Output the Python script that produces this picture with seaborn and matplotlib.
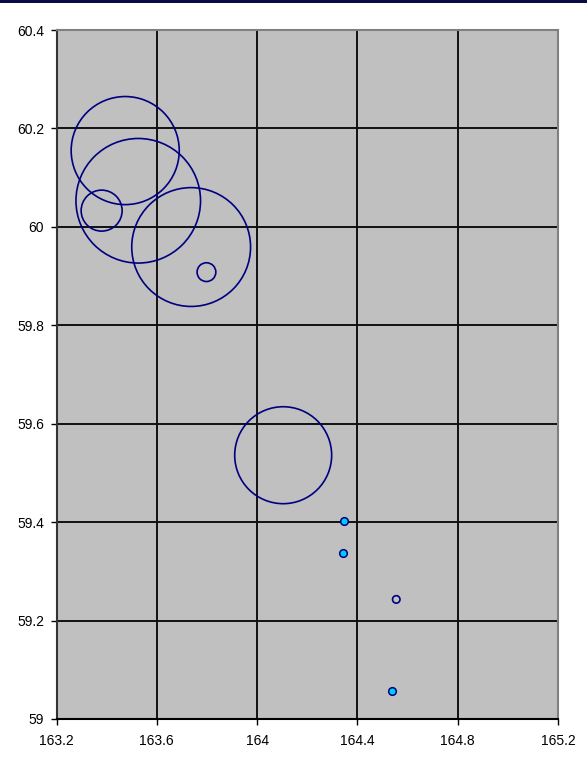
import matplotlib
matplotlib.use("Agg")
import matplotlib.pyplot as plt
from matplotlib.patches import Rectangle
import seaborn as sns
import pandas as pd

# Hollow bubble series (longitude, latitude, bubble value)
bubble_lon = [163.474, 163.526, 163.380, 163.737, 163.798, 164.104, 164.555]
bubble_lat = [60.155, 60.053, 60.033, 59.959, 59.908, 59.536, 59.243]
bubble_val = [29.2, 38.8, 4.2, 35.3, 0.88, 23.5, 0.14]

# Filled (cyan) point series
point_lon = [164.348, 164.341, 164.538]
point_lat = [59.402, 59.337, 59.056]

x_ticks = [163.2, 163.6, 164.0, 164.4, 164.8, 165.2]
x_labels = ["163.2", "163.6", "164", "164.4", "164.8", "165.2"]
y_ticks = [59.0, 59.2, 59.4, 59.6, 59.8, 60.0, 60.2, 60.4]
y_labels = ["59", "59.2", "59.4", "59.6", "59.8", "60", "60.2", "60.4"]

sns.set_style("white")
plt.rcParams["font.family"] = ["Liberation Sans", "DejaVu Sans"]

fig = plt.figure(figsize=(5.87, 7.64), dpi=100)
ax = fig.add_axes([56.5 / 587, 1 - 719 / 764, (558 - 56.5) / 587, (719 - 30) / 764])
ax.set_facecolor("#C0C0C0")

bubbles = pd.DataFrame({"lon": bubble_lon, "lat": bubble_lat, "val": bubble_val})
points = pd.DataFrame({"lon": point_lon, "lat": point_lat})

vmax = 40.0
smax = 207.36 * vmax
sns.scatterplot(data=bubbles, x="lon", y="lat", size="val", sizes=(0, smax),
                size_norm=(0, vmax), color="#000080", facecolor="none",
                edgecolor="#000080", linewidth=1.2, legend=False, ax=ax, zorder=3)
sns.scatterplot(data=points, x="lon", y="lat", s=30, color="#00CCFF",
                edgecolor="#000080", linewidth=1.1, legend=False, ax=ax, zorder=4)

ax.set_xlim(163.2, 165.2)
ax.set_ylim(59.0, 60.4)
ax.set_xticks(x_ticks)
ax.set_xticklabels(x_labels)
ax.set_yticks(y_ticks)
ax.set_yticklabels(y_labels)
ax.set_xlabel("")
ax.set_ylabel("")
ax.set_axisbelow(True)
ax.grid(True, color="#111111", linewidth=1.4)

ax.tick_params(axis="both", direction="out", length=4.5, width=1.0, color="black",
               labelsize=10, labelcolor="black")
ax.tick_params(axis="x", pad=6.5)
ax.tick_params(axis="y", pad=4.5)
ax.tick_params(bottom=True, left=True, top=False, right=False)

ax.spines["left"].set_color("#333333")
ax.spines["bottom"].set_color("black")
ax.spines["top"].set_color("#808080")
ax.spines["right"].set_color("#808080")
for sp in ax.spines.values():
    sp.set_linewidth(1.5)
    sp.set_visible(True)

fig.add_artist(Rectangle((0, 1 - 3 / 764), 1, 3 / 764, transform=fig.transFigure,
                         facecolor="#0A0A45", edgecolor="none"))

fig.savefig("out.png", dpi=100, facecolor="white")
